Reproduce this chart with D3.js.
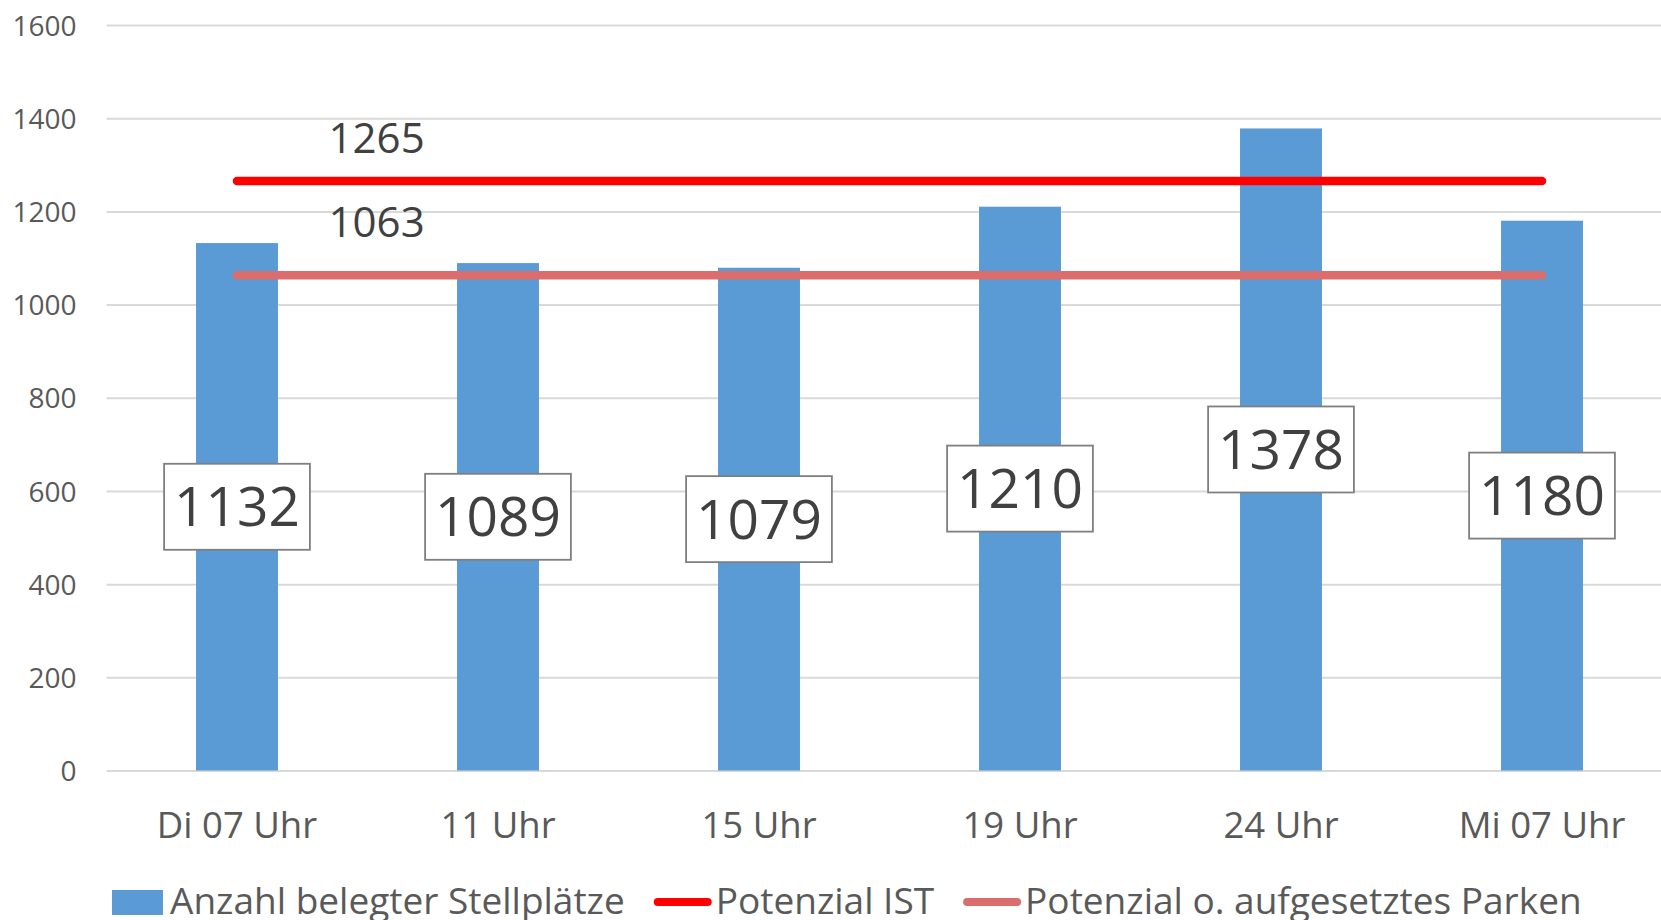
<!DOCTYPE html>
<html>
<head>
<meta charset="utf-8">
<script src="https://cdn.jsdelivr.net/npm/d3@7"></script>
<style>
  html, body { margin: 0; padding: 0; background: #fff; }
  svg { display: block; font-family: "Open Sans", "Noto Sans", sans-serif; }
</style>
</head>
<body>
<svg id="chart" width="1661" height="920"></svg>
<script>
// Belegte Stellplätze über den Tag, mit zwei Potenzial-Linien
const categories = ["Di 07 Uhr", "11 Uhr", "15 Uhr", "19 Uhr", "24 Uhr", "Mi 07 Uhr"];
const occupied = [1132, 1089, 1079, 1210, 1378, 1180];
const potenzialIst = [1265, 1265, 1265, 1265, 1265, 1265];
const potenzialOhne = [1063, 1063, 1063, 1063, 1063, 1063];
const yTicks = [0, 200, 400, 600, 800, 1000, 1200, 1400, 1600];
const seriesNames = ["Anzahl belegter Stellplätze", "Potenzial IST", "Potenzial o. aufgesetztes Parken"];

const colors = { bar: "#5B9BD5", ist: "#FF0000", ohne: "#DB6D6D", grid: "#D9D9D9", text: "#595959", label: "#404040" };

const svg = d3.select("#chart");

const y = d3.scaleLinear().domain([0, 1600]).range([770.5, 25]);
const x = d3.scaleBand().domain(categories).range([106.5, 1672.5]).paddingInner(0.686).paddingOuter(0.343);
const cx = c => x(c) + x.bandwidth() / 2;

// Horizontal gridlines and value axis labels
const yAxis = d3.axisLeft(y).tickValues(yTicks).tickSize(-(1672.5 - 106.5)).tickPadding(30).tickFormat(d3.format("d"));
const gAxis = svg.append("g").attr("transform", "translate(106.5,0)").call(yAxis);
gAxis.select(".domain").remove();
gAxis.selectAll(".tick line").attr("stroke", colors.grid).attr("stroke-width", 2);
gAxis.selectAll(".tick text").attr("fill", colors.text).attr("font-size", 28)
  .attr("font-family", "'Open Sans', sans-serif").attr("dy", "0.36em");

// Category axis labels
const xAxis = d3.axisBottom(x).tickSize(0).tickPadding(0);
const gX = svg.append("g").attr("transform", "translate(0,838)").call(xAxis);
gX.select(".domain").remove();
gX.selectAll(".tick text").attr("fill", colors.text).attr("font-size", 36.5)
  .attr("font-family", "'Open Sans', sans-serif").attr("dy", 0);

// Bars
svg.append("g").selectAll("rect").data(occupied).join("rect")
  .attr("x", (d, i) => x(categories[i]))
  .attr("width", x.bandwidth())
  .attr("y", d => y(d))
  .attr("height", d => y(0) - y(d))
  .attr("fill", colors.bar);

// Potential lines
const line = d3.line().x((d, i) => cx(categories[i])).y(d => y(d));
[[potenzialOhne, colors.ohne], [potenzialIst, colors.ist]].forEach(([vals, col]) => {
  svg.append("path").datum(vals).attr("d", line)
    .attr("fill", "none").attr("stroke", col).attr("stroke-width", 8.5).attr("stroke-linecap", "round");
});

// Line value labels
const lineLabelX = cx(categories[0]) + 0.535 * x.step();
[[potenzialIst[0], -28], [potenzialOhne[0], -38]].forEach(([v, off]) => {
  svg.append("text").attr("x", lineLabelX).attr("y", y(v) + off)
    .attr("text-anchor", "middle").attr("font-size", 42).attr("fill", colors.label).text(v);
});

// Boxed value labels centred in the bars
const lbl = svg.append("g").selectAll("g").data(occupied).join("g")
  .attr("transform", (d, i) => `translate(${cx(categories[i])},${y(d / 2)})`);
lbl.append("text").attr("text-anchor", "middle").attr("font-size", 55).attr("fill", colors.label)
  .attr("y", 55 * 0.357).text(d => d);
lbl.each(function () {
  const g = d3.select(this);
  const w = g.select("text").node().getComputedTextLength() + 20;
  g.insert("rect", "text").attr("x", -w / 2).attr("y", -43).attr("width", w).attr("height", 86)
    .attr("fill", "#fff").attr("stroke", "#7F7F7F").attr("stroke-width", 1.8);
});

// Legend
const leg = svg.append("g");
let lx = 112;
const ly = 902;
seriesNames.forEach((name, i) => {
  if (i === 0) {
    leg.append("rect").attr("x", lx).attr("y", ly - 12).attr("width", 51).attr("height", 25).attr("fill", colors.bar);
    lx += 51 + 7;
  } else {
    leg.append("line").attr("x1", lx + 4).attr("x2", lx + 54).attr("y1", ly).attr("y2", ly)
      .attr("stroke", i === 1 ? colors.ist : colors.ohne).attr("stroke-width", 8).attr("stroke-linecap", "round");
    lx += 62;
  }
  const t = leg.append("text").attr("x", lx).attr("y", ly + 12).attr("font-size", 37).attr("fill", colors.text).text(name);
  lx += t.node().getComputedTextLength() + 29;
});
</script>
</body>
</html>
